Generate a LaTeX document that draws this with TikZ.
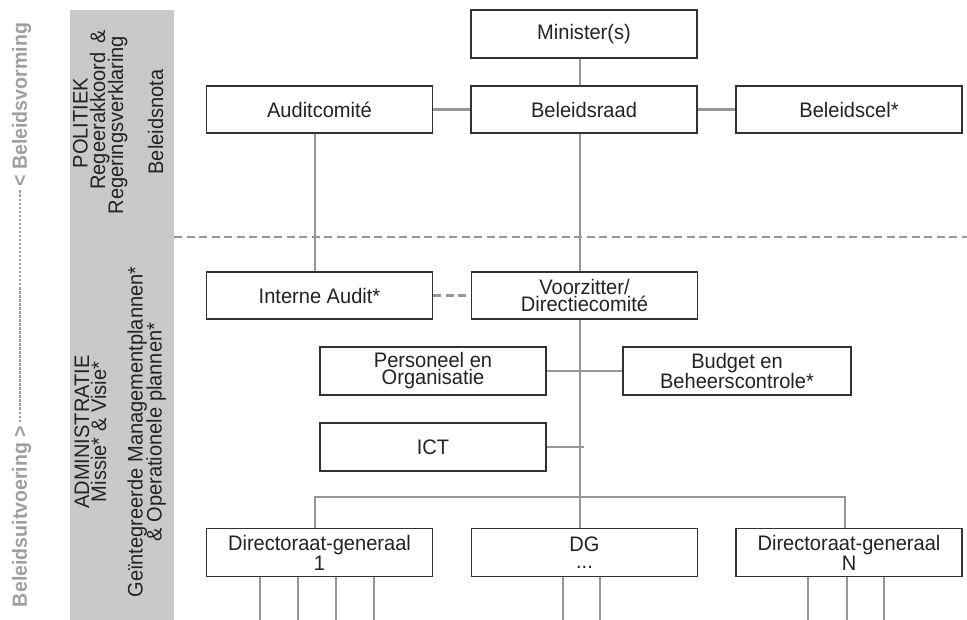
\documentclass[tikz,border=0pt]{standalone}
\usepackage{fontspec}
\setmainfont{Liberation Sans}[FakeStretch=0.955]
\usetikzlibrary{backgrounds}

\definecolor{bandgray}{RGB}{200,201,203}
\definecolor{linkgray}{RGB}{150,151,153}
\definecolor{boxline}{RGB}{50,50,50}
\definecolor{inkdark}{RGB}{35,35,35}
\definecolor{flowgray}{RGB}{158,159,161}

\begin{document}
\begin{tikzpicture}[x=1pt,y=-1pt,
  orgbox/.style={draw=boxline, line width=1.3pt, fill=white,
    minimum width=226pt, minimum height=48pt, inner sep=0pt,
    align=center, text=inkdark, font=\fontsize{21}{17}\selectfont},
  link/.style={draw=linkgray, line width=2.8pt},
  dashlink/.style={link, dash pattern=on 8pt off 4.5pt},
  bandtext/.style={rotate=90, anchor=base, inner sep=0pt, text=inkdark,
    font=\fontsize{21}{21}\selectfont},
  flowtext/.style={rotate=90, anchor=base, inner sep=0pt, text=flowgray,
    font=\fontsize{20.5}{20.5}\selectfont\bfseries},
]
\useasboundingbox (0,0) rectangle (967,620);

% grey band holding the two phases
\fill[bandgray] (70,10) rectangle (174,620);

% side label: execution <---> policy making
\node[flowtext] (flow) at (27,315) {\hbox to 584pt{Beleidsuitvoering >\hskip 3pt\xleaders\hbox to 4pt{\hss\rule[6.4pt]{2.6pt}{1.2pt}\hss}\hfill\hskip 3pt< Beleidsvorming}};

% texts of the political phase
\node[bandtext] (pol)  at (87.5,123) {POLITIEK};
\node[bandtext] (pol2) at (105,110) {Regeerakkoord\hspace{9pt}\&};
\node[bandtext] (pol3) at (123,125) {Regeringsverklaring};
\node[bandtext] (pol4) at (163,122) {Beleidsnota};

% texts of the administrative phase
\node[bandtext] (adm)  at (89,432) {ADMINISTRATIE};
\node[bandtext] (adm2) at (106,432) {Missie* \& Visie*};
\node[bandtext] (adm3) at (142.5,432) {Geïntegreerde Managementplannen*};
\node[bandtext] (adm4) at (161.5,432) {\& Operationele plannen*};

% organisation boxes
\node[orgbox] (minister) at (584,34)    {Minister(s)};
\node[orgbox, minimum height=47pt] (auditc) at (319.5,109.5) {Auditcomité};
\node[orgbox, minimum height=47pt] (raad)   at (584,109.5)   {Beleidsraad};
\node[orgbox, minimum height=47pt] (cel)    at (849,109.5)   {Beleidscel*};
\node[orgbox, minimum height=47pt] (intaudit) at (319.5,295.5) {Interne Audit*};
\node[orgbox, minimum height=47pt] (voorz)  at (584.5,295.5) {Voorzitter/\\Directiecomité};
\node[orgbox] (po)   at (433,371)   {Personeel en\\Organisatie};
\node[orgbox, minimum width=228pt] (bbc)  at (737,371)   {Budget en\\Beheerscontrole*};
\node[orgbox] (ict)  at (433,447)   {ICT};
\node[orgbox] (dg1)  at (319.5,552.5) {Directoraat-generaal\\1};
\node[orgbox] (dgx)  at (584.5,552.5) {DG\\...};
\node[orgbox] (dgn)  at (849,552.5)   {Directoraat-generaal\\N};

% helper positions for the connector lines
\coordinate (spine) at (580,0);
\coordinate (auditx) at (315,0);
\coordinate (stub) at (583.5,447);
\coordinate (busL) at (315,497);
\coordinate (busR) at (845,497);
\coordinate (sepL) at (174,237);
\coordinate (sepR) at (967,237);

\begin{scope}[on background layer]
  % boundary between politics and administration
  \draw[dashlink] (sepL) -- (sepR);
  % main line of command
  \draw[link] (minister.south -| spine) -- (raad.north -| spine);
  \draw[link] (raad.south -| spine) -- (voorz.north -| spine);
  \draw[link] (voorz.south -| spine) -- (dgx.north -| spine);
  % side links
  \draw[link] (auditc.east) -- (raad.west);
  \draw[link] (raad.east) -- (cel.west);
  \draw[link] (auditc.south -| auditx) -- (intaudit.north -| auditx);
  \draw[dashlink] (intaudit.east) -- (voorz.west);
  \draw[link] (po.east) -- (bbc.west);
  \draw[link] (ict.east) -- (stub);
  % distribution to the directorates-general
  \draw[link] (busL |- dg1.north) -- (busL) -- (busR) -- (busR |- dgn.north);
  % lower services
  \foreach \xx in {260,298,336,374}
    \draw[link] (dg1.south -| \xx,0) -- ++(0,45);
  \foreach \xx in {563,600}
    \draw[link] (dgx.south -| \xx,0) -- ++(0,45);
  \foreach \xx in {808,847,884}
    \draw[link] (dgn.south -| \xx,0) -- ++(0,45);
\end{scope}
\end{tikzpicture}
\end{document}
